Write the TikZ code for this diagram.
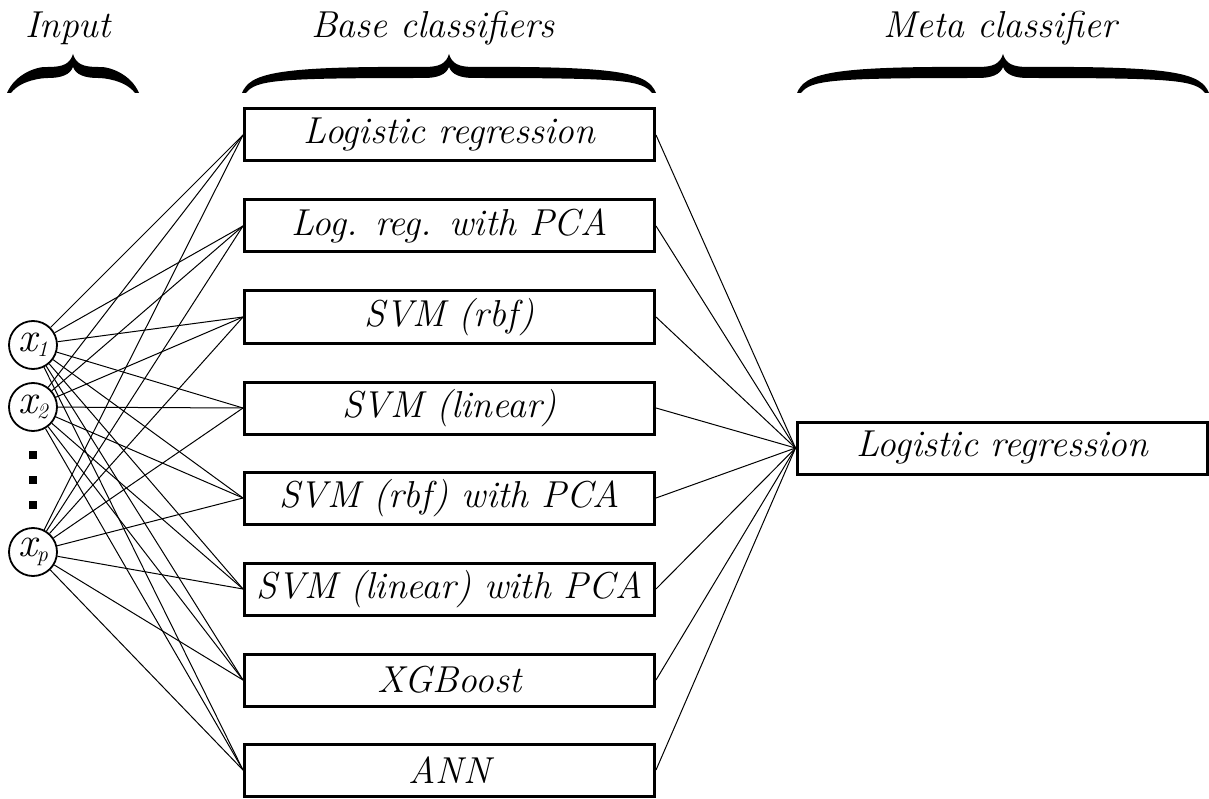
\documentclass[tikz,border=0pt]{standalone}
\begin{document}
% Filled over-brace: #1,#2 = centre of the base line, #3 = half width
\newcommand\heavybrace[3]{%
  \fill[shift={(#1,#2)},yscale=-1]
    (0,39) .. controls (3,29) and (10,26) .. (25,26)
    .. controls ({#3-30},27) and ({#3-8},19) .. (#3,0)
    -- ({#3-4},0) .. controls ({#3-14},13) and ({#3-35},15) .. (25,15)
    .. controls (12,15) and (3,18) .. (0,26)
    .. controls (-3,18) and (-12,15) .. (-25,15)
    .. controls ({-#3+35},15) and ({-#3+14},13) .. ({-#3+4},0)
    -- (-#3,0) .. controls ({-#3+8},19) and ({-#3+30},27) .. (-25,26)
    .. controls (-10,26) and (-3,29) .. (0,39) -- cycle;}
\begin{tikzpicture}[x=1pt,y=-1pt,
  clf/.style={draw, line width=3pt, minimum width=410pt, minimum height=52pt,
    inner sep=0pt, font=\fontsize{37.5}{40}\selectfont\itshape},
  inp/.style={circle, draw, line width=1.8pt, minimum size=48pt, inner sep=0pt,
    font=\fontsize{42}{44}\selectfont\itshape},
  head/.style={font=\fontsize{37.5}{40}\selectfont\itshape},
  wire/.style={line width=1pt},
  dotsq/.style={fill, minimum size=8pt, inner sep=0pt}]
\useasboundingbox (0,0) rectangle (1209,799);

% column headings and braces
\node[head] (hin) at (68,28) {Input};
\node[head] (hbase) at (433,28) {Base classifiers};
\node[head] (hmeta) at (1000,28) {Meta classifier};
\heavybrace{73}{93}{66}
\heavybrace{449}{93}{207}
\heavybrace{1003}{93}{206}

% inputs
\node[inp] (x1) at (33,345) {x\raisebox{-0.3ex}{\fontsize{22}{24}\selectfont 1}};
\node[inp] (x2) at (33,407) {x\raisebox{-0.3ex}{\fontsize{22}{24}\selectfont 2}};
\node[inp] (xp) at (33,552) {x\raisebox{-0.3ex}{\fontsize{22}{24}\selectfont p}};
\node[dotsq] (d1) at (33,455) {};
\node[dotsq] (d2) at (33,480) {};
\node[dotsq] (d3) at (33,505) {};

% base classifiers
\node[clf] (b1) at (449.5,135) {Logistic regression};
\node[clf] (b2) at (449.5,226) {Log. reg. with PCA};
\node[clf] (b3) at (449.5,317) {SVM (rbf)};
\node[clf] (b4) at (449.5,408) {SVM (linear)};
\node[clf] (b5) at (449.5,498) {SVM (rbf) with PCA};
\node[clf] (b6) at (449.5,589) {SVM (linear) with PCA};
\node[clf] (b7) at (449.5,680) {XGBoost};
\node[clf] (b8) at (449.5,770) {ANN};

% meta classifier
\node[clf] (m) at (1002,448) {Logistic regression};

% connections
\foreach \i in {x1,x2,xp}
  \foreach \j in {b1,b2,b3,b4,b5,b6,b7,b8}
    \draw[wire] (\i) -- (\j.west);
\foreach \j in {b1,b2,b3,b4,b5,b6,b7,b8}
  \draw[wire] (\j.east) -- (m.west);
\end{tikzpicture}
\end{document}
